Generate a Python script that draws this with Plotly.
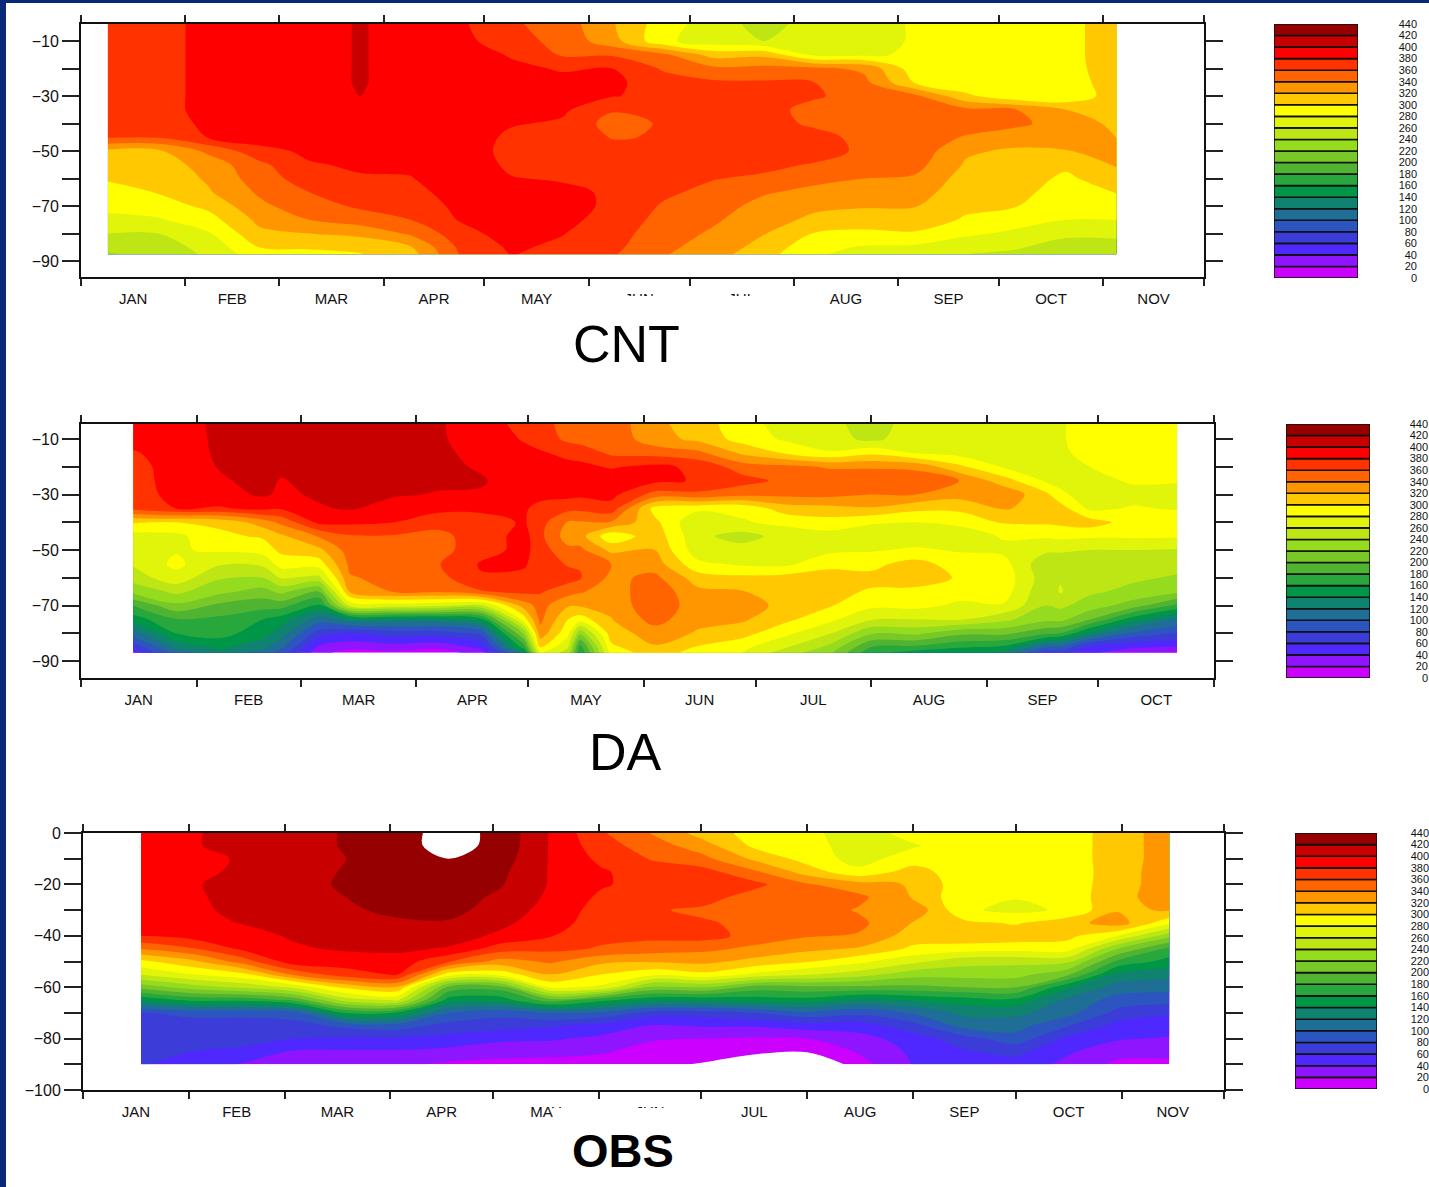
import numpy as np
import plotly.graph_objects as go

levels = [0,20,40,60,80,100,120,140,160,180,200,220,240,260,280,300,320,340,360,380,400,420]
band_colors = ["#cc00ff","#8f14ff","#4f28ff","#3c3cd8","#2d55c0","#1e6e96","#0f8270","#009648","#28a83c","#50b432",
               "#78c828","#96dc1e","#bee614","#e1f50a","#ffff00","#ffc800","#ff9600","#ff6400","#ff3200","#ff0000","#c80000","#960000"]
bar_labels = ["0","20","40","60","80","100","120","140","160","180","200","220","240","260","280","300","320","340","360","380","400","420","440"]
bar_ticks = [0,20,40,60,80,100,120,140,160,180,200,220,240,260,280,300,320,340,360,380,400,420,440]
months = ["JAN","FEB","MAR","APR","MAY","JUN","JUL","AUG","SEP","OCT","NOV"]
month_edges = [0,31,59,90,120,151,181,212,243,273,304,334]
month_mids = [15.5,45,74.5,105,135.5,166,196.5,227.5,258,288.5,319]

cnt_days = [8,23,38,53,68,83,98,113,128,143,158,173,188,203,218,233,248,263,278,293,308]
cnt_lats = [-3.75,-10,-15,-20,-25,-30,-35,-40,-45,-50,-55,-60,-65,-70,-75,-80,-85,-87.5]
cnt_cols = [
 [372,372,372,372,372,372,372,372,362,315,308,302,293,285,275,260,245,238],
 [373,373,373,373,373,373,373,373,362,316,310,305,301,290,278,260,250,245],
 [386,386,386,386,386,386,386,383,381,345,328,323,318,305,292,278,267,264],
 [392,392,392,392,392,392,392,392,392,372,355,350,343,335,325,315,300,292],
 [395,395,395,395,395,395,394,394,392,385,378,370,360,352,340,320,302,295],
 [401,401,401,401,401,400,395,393,391,388,383,378,370,363,350,325,305,299],
 [395,395,395,395,395,395,394,394,393,390,384,379,373,366,360,343,318,312],
 [383,386,392,395,395,396,396,395,394,394,393,392,390,386,382,372,365,362],
 [363,368,378,385,390,392,388,382,375,372,376,381,388,392,392,390,383,381],
 [351,354,358,378,386,388,384,377,372,368,372,378,385,388,386,381,376,373],
 [322,328,358,380,385,381,362,352,359,366,372,375,377,376,372,368,365,362],
 [290,285,345,358,368,375,367,362,361,368,372,370,364,358,354,350,345,342],
 [270,268,312,345,363,368,372,370,370,371,367,361,354,348,343,337,331,328],
 [252,260,315,346,362,367,369,367,368,372,366,356,342,334,328,321,313,308],
 [268,268,276,345,360,363,352,357,366,371,358,345,335,324,316,299,286,283],
 [272,272,276,336,345,350,352,354,355,355,352,340,332,322,310,296,278,272],
 [282,282,284,288,298,345,350,353,355,353,347,337,329,321,310,298,276,270],
 [290,290,290,287,284,305,345,352,338,323,318,312,308,304,298,284,266,260],
 [290,290,290,290,287,284,341,344,330,317,313,310,306,301,288,276,262,256],
 [294,294,294,293,290,284,320,332,328,319,304,296,291,285,280,264,252,248],
 [310,310,310,310,310,311,313,315,319,330,322,312,301,290,280,265,252,248],
]

da_days = [14.0,25.5,37.3,48.8,53.7,63.9,72.2,84.0,95.5,107.3,118.9,123.2,130.7,133.9,142.2,154.0,165.5,177.4,188.9,200.7,212.2,224.0,235.6,247.4,258.9,262.7,270.7,282.3,294.1]
da_lats = [-4.6,-10,-15,-20,-25,-30,-35,-40,-45,-50,-55,-60,-65,-70,-75,-80,-85,-87]
da_cols = [
 [392,388,378,372,370,368,365,302,272,265,262,250,225,180,150,110,65,50],
 [390,390,390,390,390,388,380,300,275,278,285,272,245,215,178,160,125,108],
 [405,404,403,401,398,392,378,305,295,283,262,242,225,195,175,168,145,135],
 [405,406,406,406,405,403,385,330,303,288,265,240,212,188,160,148,125,110],
 [404,405,404,403,399,396,382,345,316,305,288,262,225,188,150,130,105,90],
 [405,406,406,407,405,403,398,385,342,315,290,255,200,155,110,70,35,25],
 [405,405,406,405,405,403,402,384,358,350,345,338,322,265,130,60,25,12],
 [405,405,406,406,405,402,392,380,358,352,350,347,342,270,130,70,30,15],
 [402,402,403,405,403,399,387,366,355,352,358,352,342,265,130,70,25,8],
 [392,394,396,398,402,398,384,372,368,372,382,378,358,255,150,85,45,30],
 [372,378,386,390,390,388,382,382,388,386,382,376,365,330,290,225,170,135],
 [368,372,382,388,390,385,375,368,365,370,372,368,362,348,345,332,300,282],
 [352,355,375,385,392,386,366,338,330,345,358,368,348,322,300,285,262,250],
 [350,352,372,385,390,384,365,338,328,345,358,362,342,322,290,225,170,160],
 [352,354,356,378,392,386,372,338,285,315,340,335,330,325,319,310,295,288],
 [325,328,352,385,385,352,292,305,312,320,330,345,353,356,348,330,318,310],
 [310,315,345,375,378,355,285,262,265,268,285,310,325,328,325,318,298,292],
 [288,292,316,350,368,345,285,278,252,268,277,305,321,328,323,308,285,280],
 [272,277,298,345,355,345,310,285,268,265,275,308,312,315,305,285,262,250],
 [265,268,282,338,352,346,313,292,272,275,295,308,305,302,285,262,235,225],
 [252,255,295,338,352,340,318,282,270,278,295,305,298,284,262,222,178,165],
 [268,272,278,335,353,340,305,280,268,283,308,310,295,286,260,225,175,150],
 [265,268,272,305,340,328,305,285,268,278,290,298,288,276,262,205,162,140],
 [270,272,275,278,310,335,322,302,282,275,288,293,290,278,245,205,155,135],
 [272,272,272,273,277,305,312,303,283,264,245,248,243,240,225,185,100,65],
 [278,278,277,273,273,285,310,305,285,263,247,258,262,244,226,180,95,72],
 [287,288,285,280,272,268,275,310,283,260,248,245,243,231,200,135,55,45],
 [287,287,287,286,283,272,282,290,283,260,247,243,235,210,148,95,42,25],
 [288,288,288,286,282,270,278,293,283,258,246,238,225,175,115,80,38,22],
]

obs_days = [17,32,47,62,77,92,107,122,137,152,167,182,197,212,227,243,258,273,288,303,318]
obs_lats = [0,-5,-10,-15,-20,-25,-30,-35,-40,-45,-50,-55,-60,-65,-70,-75,-80,-85,-90]
obs_cols = [
 [395,395,395,395,395,395,393,390,380,341,295,262,208,143,78,72,72,68,62],
 [398,398,392,392,398,397,396,394,388,358,315,280,230,165,85,72,68,60,50],
 [408,408,403,406,408,407,405,401,392,385,350,295,245,165,85,72,68,55,38],
 [410,410,410,410,410,410,408,405,403,397,392,345,265,185,90,72,60,38,28],
 [422,422,420,422,424,420,418,414,408,403,388,373,305,250,160,85,58,38,25],
 [432,432,432,432,432,428,423,418,410,404,392,382,318,262,155,90,57,38,25],
 [448,448,440,435,433,430,426,418,410,398,362,290,195,150,100,72,53,34,16],
 [435,434,430,425,422,416,412,405,396,370,332,288,190,148,88,68,45,26,15],
 [398,398,398,398,398,396,392,388,381,365,343,320,285,192,100,62,43,25,14],
 [362,368,375,382,382,376,372,370,365,358,324,300,275,165,95,52,35,22,12],
 [338,350,358,370,372,372,362,368,366,350,322,285,215,145,70,38,22,12,5],
 [310,328,345,367,372,368,356,362,368,345,325,295,220,145,70,42,20,10,-2],
 [292,295,315,342,365,350,352,355,352,335,313,275,190,150,80,42,18,4,-15],
 [285,288,292,310,342,350,352,350,342,325,302,262,195,152,95,50,20,2,-30],
 [270,270,272,285,328,345,338,345,338,318,285,250,195,135,85,50,32,22,12],
 [288,278,290,308,318,318,335,319,310,296,265,228,195,142,102,72,50,44,41],
 [290,290,290,288,287,285,283,305,315,290,247,228,200,150,125,108,72,58,45],
 [290,290,290,288,285,281,275,298,312,288,245,228,200,155,125,108,92,66,52],
 [290,290,290,289,288,287,283,312,306,290,245,205,145,115,108,82,56,43,35],
 [310,310,310,310,312,315,318,330,280,220,175,135,110,92,73,53,42,28,15],
 [330,330,330,332,330,328,321,285,228,175,152,128,108,88,62,50,38,26,15],
]

W, H = 1429, 1187
def fx(px): return px / W
def fy(py): return 1 - py / H

ZMIN, ZMAX = -20, 460
def norm(v): return (v - ZMIN) / (ZMAX - ZMIN)
scale = [[0, "#ffffff"], [norm(0), "#ffffff"]]
for lv, col in zip(levels, band_colors):
    scale += [[norm(lv), col], [norm(lv + 20), col]]
scale += [[norm(440), "#ffffff"], [1, "#ffffff"]]

TXT = "Liberation Sans"
fig = go.Figure()
panels = [
    dict(days=cnt_days, lats=cnt_lats, cols=cnt_cols, box=(81,1204,24,277), yr=(-95.8,-3.82), xmax=334, nm=11,
         yt=[-10,-20,-30,-40,-50,-60,-70,-80,-90], yl=["−10","","−30","","−50","","−70","","−90"],
         bar=(1274,1358,24,278), lab=1417),
    dict(days=da_days, lats=da_lats, cols=da_cols, box=(81,1214,424,678), yr=(-96.1,-4.6), xmax=304, nm=10,
         yt=[-10,-20,-30,-40,-50,-60,-70,-80,-90], yl=["−10","","−30","","−50","","−70","","−90"],
         bar=(1286,1370,424,678), lab=1428),
    dict(days=obs_days, lats=obs_lats, cols=obs_cols, box=(83,1224,833,1090), yr=(-100,0), xmax=334, nm=11,
         yt=[0,-10,-20,-30,-40,-50,-60,-70,-80,-90,-100], yl=["0","","−20","","−40","","−60","","−80","","−100"],
         bar=(1295,1377,833,1089), lab=1429),
]

layout = {}
for i, p in enumerate(panels):
    n = i + 1
    xn, yn = f"x{n}", f"y{n}"
    z = np.array(p["cols"], dtype=float).T
    fig.add_trace(go.Contour(x=p["days"], y=p["lats"], z=z, xaxis=xn, yaxis=yn, zmin=ZMIN, zmax=ZMAX,
        autocontour=False, contours=dict(start=0, end=440, size=20, coloring="fill", showlines=False),
        line=dict(width=0), colorscale=scale, showscale=False, hoverinfo="skip"))
    l, r, t, b = p["box"]
    nm = p["nm"]
    layout[f"xaxis{n}"] = dict(domain=[fx(l), fx(r)], range=[0, p["xmax"]], anchor=yn, showgrid=False, zeroline=False,
        showline=True, linecolor="#111", linewidth=2, mirror="allticks", ticks="outside", ticklen=7,
        tickcolor="rgba(0,0,0,0)", tickmode="array", tickvals=month_mids[:nm], ticktext=months[:nm],
        tickfont=dict(family=TXT, size=15, color="#111"),
        minor=dict(ticks="outside", ticklen=7, tickwidth=2, tickcolor="#222", tickmode="array", tickvals=month_edges[:nm+1], showgrid=False))
    layout[f"yaxis{n}"] = dict(domain=[fy(b), fy(t)], range=list(p["yr"]), anchor=xn, showgrid=False, zeroline=False,
        showline=True, linecolor="#111", linewidth=2, mirror="allticks", ticks="outside", ticklen=17, tickwidth=2, tickcolor="#222",
        tickmode="array", tickvals=p["yt"], ticktext=p["yl"], tickfont=dict(family=TXT, size=16, color="#111"))
    bxn, byn = f"x{n+3}", f"y{n+3}"
    fig.add_trace(go.Bar(x=[0]*len(levels), y=[20]*len(levels), base=levels, width=1, xaxis=bxn, yaxis=byn,
        marker=dict(color=band_colors, line=dict(color="#111", width=1.6)), hoverinfo="skip", showlegend=False))
    bl, br, bt, bb = p["bar"]
    layout[f"xaxis{n+3}"] = dict(domain=[fx(bl), fx(br)], range=[-0.5, 0.5], anchor=byn, visible=False)
    layout[f"yaxis{n+3}"] = dict(domain=[fy(bb), fy(bt)], range=[0, 440], anchor="free", position=min(p["lab"]/W, 1), side="left",
        showgrid=False, zeroline=False, showline=False, ticks="", tickmode="array", tickvals=bar_ticks, ticktext=bar_labels,
        tickfont=dict(family=TXT, size=11, color="#111"))

titles = [("CNT", 626, 344, 52, False), ("DA", 625, 752, 52, False), ("OBS", 623, 1150, 47, True)]
annotations = [dict(text=f"<b>{t}</b>" if bold else t, x=fx(px), y=fy(py), xref="paper", yref="paper", xanchor="center", yanchor="middle",
                    showarrow=False, font=dict(family=TXT, size=s, color="#000")) for t, px, py, s, bold in titles]

def rect(x0, x1, y0, y1, color, layer):
    return dict(type="rect", xref="paper", yref="paper", x0=fx(x0), x1=fx(x1), y0=fy(y1), y1=fy(y0), line=dict(width=0), fillcolor=color, layer=layer)

shapes = [
    rect(0, 6, 0, H, "#0a2878", "above"), rect(0, W, 0, 3, "#0a2878", "above"),
    rect(600, 780, 296, 330, "#ffffff", "above"),
    rect(553, 690, 1108, 1128, "#ffffff", "above"),
]

fig.update_layout(width=W, height=H, margin=dict(l=0, r=0, t=0, b=0, pad=0, autoexpand=False), autosize=False, paper_bgcolor="#fff", plot_bgcolor="#fff",
                  barmode="overlay", showlegend=False, annotations=annotations, shapes=shapes, **layout)
fig.write_html("out.html", config=dict(displayModeBar=False), post_script="document.body.style.margin='0';")
